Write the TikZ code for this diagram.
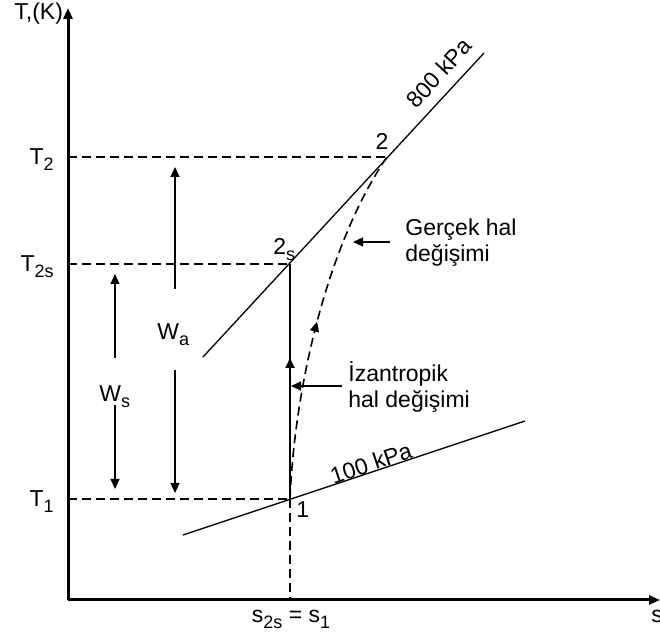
\documentclass[tikz,border=0pt]{standalone}
\usepackage{fontspec}
\setmainfont{Liberation Sans}
\usetikzlibrary{arrows.meta,decorations.markings}
\newcommand\lsub[1]{\raisebox{-3pt}{\fontsize{9}{10}\selectfont #1}}
\begin{document}
\begin{tikzpicture}[x=0.5pt,y=-0.5pt,
  font=\fontsize{11.5}{13}\selectfont,
  axis/.style={line width=1.5pt,-{Triangle[length=5.5pt,width=4.5pt]}},
  guide/.style={line width=1pt,dash pattern=on 4.5pt off 2.5pt},
  pline/.style={line width=0.65pt},
  warrow/.style={line width=0.6pt,-{Triangle[length=5pt,width=4.5pt]}},
  midarrow/.style={postaction={decorate},decoration={markings,
     mark=at position #1 with {\arrow{Triangle[length=5pt,width=4.5pt]}}}},
  lbl/.style={inner sep=0pt}]
\useasboundingbox (0,0) rectangle (660,636);
% coordinates
\coordinate (O) at (68,600);
\coordinate (Ytop) at (68,8);
\coordinate (Xend) at (660,600);
\coordinate (P1) at (290,499);
\coordinate (P2s) at (290,264);
\coordinate (P2) at (387,157);
\coordinate (Y2) at (68,157);
\coordinate (Y2s) at (68,264);
\coordinate (Y1) at (68,499);
\coordinate (Xs) at (290,600);
\coordinate (HpA) at (203,357);
\coordinate (HpB) at (484,53);
\coordinate (LpA) at (183,535);
\coordinate (LpB) at (525,421);
% guides
\draw[guide] (Y2) -- (P2);
\draw[guide] (Y2s) -- (P2s);
\draw[guide] (Y1) -- (P1);
\draw[guide] (P1) -- (Xs);
% axes
\draw[axis] (O) -- (Ytop);
\draw[axis] (O) -- (Xend);
% pressure lines
\draw[pline] (HpA) -- (HpB);
\draw[pline] (LpA) -- (LpB);
% processes
\draw[line width=0.9pt,midarrow=0.6] (P1) -- (P2s);
\draw[line width=0.8pt,dash pattern=on 4.5pt off 2.5pt,midarrow=0.5]
  (P1) .. controls (295,380) and (330,240) .. (P2);
% axis labels
\node[lbl,anchor=base west] (Tk) at (14,20) {T,(K)};
\node[lbl,anchor=base] (sax) at (657,623) {s};
\node[lbl,anchor=base] (sx) at (291,623) {s\lsub{2s} = s\lsub{1}};
\node[lbl,anchor=base east] (T2) at (54,165) {T\lsub{2}};
\node[lbl,anchor=base east] (T2s) at (54,272) {T\lsub{2s}};
\node[lbl,anchor=base east] (T1) at (54,507) {T\lsub{1}};
% point labels
\node[lbl,anchor=base] (L2) at (382,150) {2};
\node[lbl,anchor=base west] (L2s) at (273,255) {2\lsub{s}};
\node[lbl,anchor=base west] (L1) at (296,518) {1};
\node[lbl,rotate=47.3] (hp) at (439,73) {800 kPa};
\node[lbl,rotate=18.6] (lp) at (371,463) {100 kPa};
% work
\node[lbl,anchor=base west] (Wa) at (157,340) {W\lsub{a}};
\node[lbl,anchor=base west] (Ws) at (99,402) {W\lsub{s}};
\coordinate (WaU0) at (175,289); \coordinate (WaU1) at (175,167);
\coordinate (WaD0) at (175,370); \coordinate (WaD1) at (175,493);
\coordinate (WsU0) at (115,358); \coordinate (WsU1) at (115,274);
\coordinate (WsD0) at (115,405); \coordinate (WsD1) at (115,489);
\draw[warrow] (WaU0) -- (WaU1);
\draw[warrow] (WaD0) -- (WaD1);
\draw[warrow] (WsU0) -- (WsU1);
\draw[warrow] (WsD0) -- (WsD1);
% process labels
\node[lbl,anchor=north west,align=left] (ger) at (405,218) {Gerçek hal\\değişimi};
\node[lbl,anchor=north west,align=left] (izn) at (348,361) {İzantropik\\hal değişimi};
\coordinate (G0) at (390,242); \coordinate (G1) at (353,242);
\coordinate (I0) at (342,386); \coordinate (I1) at (291,386);
\draw[warrow] (G0) -- (G1);
\draw[warrow] (I0) -- (I1);
\end{tikzpicture}
\end{document}
